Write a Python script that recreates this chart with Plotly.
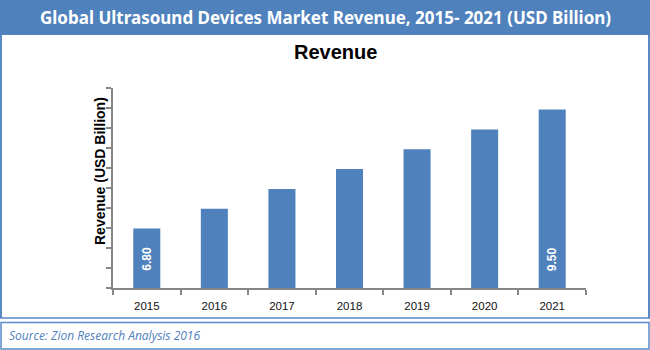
import plotly.graph_objects as go

years = ["2015", "2016", "2017", "2018", "2019", "2020", "2021"]
revenue = [6.80, 7.25, 7.70, 8.15, 8.60, 9.05, 9.50]
bar_labels = ["6.80", "", "", "", "", "", "9.50"]

header_title = "Global Ultrasound Devices Market Revenue, 2015- 2021 (USD Billion)"
chart_title = "Revenue"
y_title = "Revenue (USD Billion)"
source_text = "Source: Zion Research Analysis 2016"

W, H = 650, 350
ML, MR, MT, MB = 113, 64, 88, 62
PW, PH = W - ML - MR, H - MT - MB
BLUE = "#4f81bd"
FRAME = "#5a8ac6"


def px(x):
    return (x - ML) / PW


def py(y):
    return (H - MB - y) / PH


fig = go.Figure(
    go.Bar(
        x=years,
        y=revenue,
        marker=dict(color=BLUE, line=dict(width=0)),
        hoverinfo="skip",
    )
)

y0, y1 = 5.45, 9.99
fig.update_layout(
    width=W,
    height=H,
    margin=dict(l=ML, r=MR, t=MT, b=MB, pad=0),
    paper_bgcolor="white",
    plot_bgcolor="white",
    showlegend=False,
    bargap=0.6,
    font=dict(family="Liberation Sans", color="#000000"),
    xaxis=dict(
        type="category",
        showline=True,
        linecolor="#868686",
        linewidth=1.5,
        ticks="outside",
        tickson="boundaries",
        ticklen=5,
        tickcolor="#868686",
        tickwidth=1.5,
        tickfont=dict(family="Liberation Sans", size=11.5, color="#111111"),
        ticklabelstandoff=6,
        showgrid=False,
        zeroline=False,
        fixedrange=True,
    ),
    yaxis=dict(
        range=[y0, y1],
        tick0=y0,
        dtick=(y1 - y0) / 10,
        showline=True,
        linecolor="#868686",
        linewidth=1.5,
        ticks="outside",
        ticklen=5,
        tickcolor="#868686",
        tickwidth=1.5,
        showticklabels=False,
        showgrid=False,
        zeroline=False,
        fixedrange=True,
    ),
)

shapes = [
    # header band
    dict(type="rect", xref="paper", yref="paper", x0=px(0), x1=px(W), y0=py(0), y1=py(35),
         fillcolor=BLUE, line=dict(width=0), layer="below"),
    # chart box borders
    dict(type="line", xref="paper", yref="paper", x0=px(1), x1=px(1), y0=py(35), y1=py(318),
         line=dict(color=FRAME, width=2)),
    dict(type="line", xref="paper", yref="paper", x0=px(649), x1=px(649), y0=py(35), y1=py(318),
         line=dict(color=FRAME, width=2)),
    dict(type="line", xref="paper", yref="paper", x0=px(0), x1=px(W), y0=py(318), y1=py(318),
         line=dict(color=FRAME, width=1.5)),
    # footer box
    dict(type="rect", xref="paper", yref="paper", x0=px(1), x1=px(649), y0=py(322.5), y1=py(349),
         line=dict(color=FRAME, width=1.5), fillcolor="rgba(0,0,0,0)"),
]

annotations = [
    dict(text="<b>" + header_title + "</b>", xref="paper", yref="paper", x=px(325), y=py(18),
         xanchor="center", yanchor="middle", showarrow=False,
         font=dict(family="Noto Sans", size=17, color="white")),
    dict(text="<b>" + chart_title + "</b>", xref="paper", yref="paper", x=px(335), y=py(52),
         xanchor="center", yanchor="middle", showarrow=False,
         font=dict(family="Liberation Sans", size=20, color="#000000")),
    dict(text="<b>" + y_title + "</b>", xref="paper", yref="paper", x=px(100), y=py(171),
         xanchor="center", yanchor="middle", showarrow=False, textangle=-90,
         font=dict(family="Liberation Sans", size=14, color="#000000")),
    dict(text="<i>" + source_text + "</i>", xref="paper", yref="paper", x=px(7), y=py(335),
         xanchor="left", yanchor="middle", showarrow=False,
         font=dict(family="Open Sans", size=12, color=BLUE)),
]

# value labels inside the first and last bars, near the base (category centres)
n = len(years)
for i, lab in enumerate(bar_labels):
    if lab:
        annotations.append(
            dict(text="<b>" + lab + "</b>", xref="paper", yref="paper", x=(i + 0.5) / n, y=py(259),
                 xanchor="center", yanchor="middle", showarrow=False, textangle=-90,
                 font=dict(family="Liberation Sans", size=12, color="white"))
        )

fig.update_layout(shapes=shapes, annotations=annotations)
fig.write_html("out.html")
